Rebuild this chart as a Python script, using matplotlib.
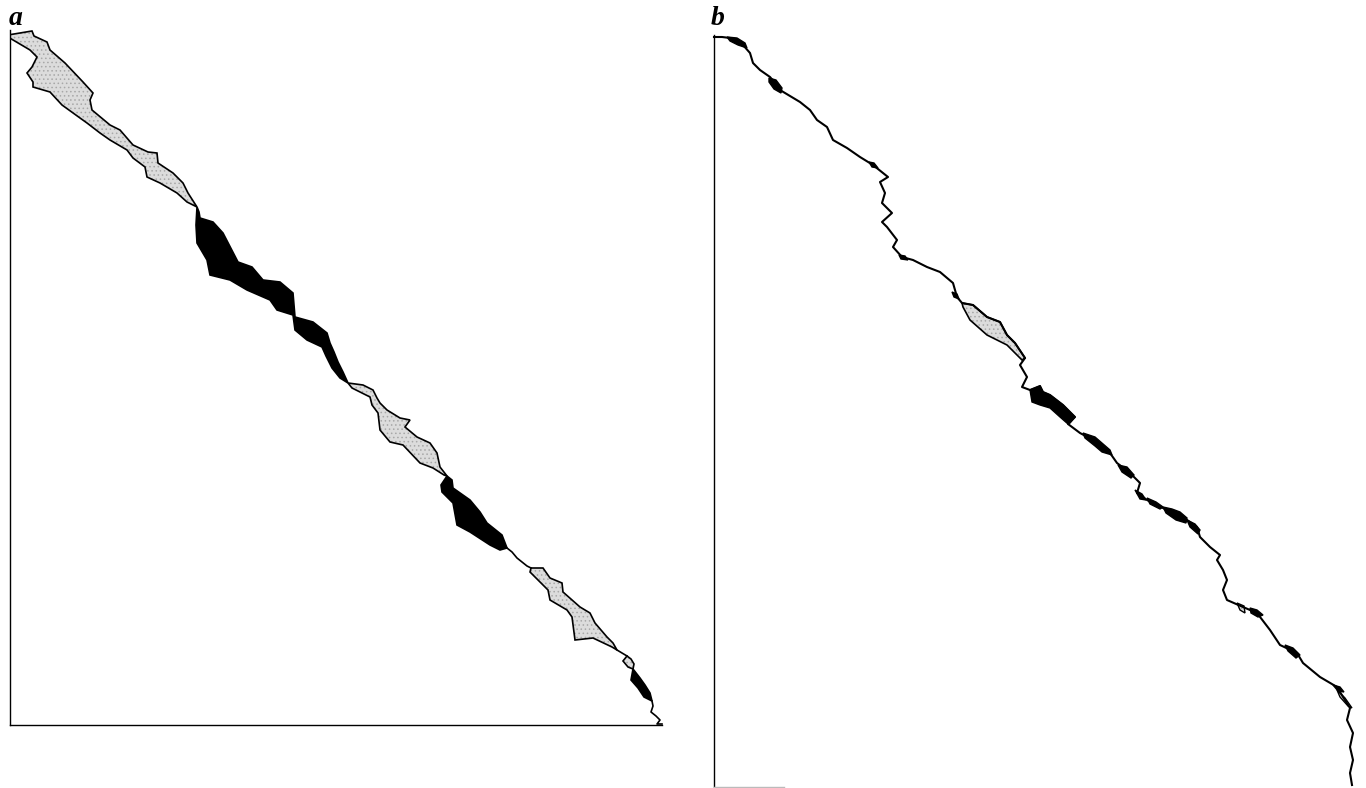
import matplotlib
matplotlib.use("Agg")
import matplotlib.pyplot as plt
from matplotlib.patches import Polygon

# =========================
# panel a: traced curves (x, y)
# =========================
a_xlim = (10, 662)
a_ylim = (725, 30)

a_gray1_up = [(8, 35), (20, 33), (32, 31), (34, 36), (47, 42), (50, 50), (65, 63), (83, 82),
              (93, 93), (90, 100), (92, 110), (110, 125), (120, 130), (133, 145), (148, 152),
              (157, 153), (158, 163), (173, 173), (183, 183), (188, 193), (197, 207)]
a_gray1_lo = [(8, 37), (30, 50), (37, 57), (32, 67), (27, 73), (33, 82), (33, 87), (50, 92),
              (62, 105), (80, 118), (87, 123), (100, 133), (110, 140), (127, 150), (133, 158),
              (145, 167), (147, 177), (160, 183), (177, 193), (187, 202), (197, 207)]

a_black1_up = [(197, 207), (199, 212), (200, 218), (213, 222), (223, 233), (238, 262), (252, 267),
               (263, 280), (280, 282), (293, 293), (295, 317), (313, 322), (327, 333), (330, 343),
               (334, 352), (338, 362), (343, 372), (348, 383)]
a_black1_lo = [(197, 207), (196, 225), (197, 243), (207, 260), (210, 275), (230, 280), (247, 290),
               (270, 300), (277, 310), (293, 315), (295, 330), (307, 340), (322, 347), (326, 356),
               (332, 368), (340, 378), (348, 383)]

a_gray2_up = [(348, 383), (363, 385), (373, 390), (377, 398), (380, 403), (387, 410), (400, 418),
              (410, 420), (405, 427), (417, 437), (430, 443), (437, 453), (440, 467), (447, 476)]
a_gray2_lo = [(348, 383), (352, 388), (370, 397), (372, 405), (378, 413), (380, 430), (390, 442),
              (403, 445), (420, 463), (433, 468), (444, 475), (447, 476)]

a_black2_up = [(447, 476), (452, 480), (453, 488), (470, 500), (480, 512), (487, 523), (502, 535),
               (507, 548)]
a_black2_lo = [(447, 476), (441, 485), (442, 492), (453, 503), (457, 525), (470, 532), (490, 545),
               (500, 550), (507, 548)]

a_link2 = [(507, 548), (512, 552), (517, 558), (527, 566), (531, 568)]

a_gray3_up = [(531, 568), (543, 568), (550, 578), (562, 583), (563, 592), (580, 607), (590, 613),
              (595, 623), (607, 637), (613, 643), (617, 650)]
a_gray3_lo = [(531, 568), (530, 572), (548, 590), (550, 600), (567, 610), (572, 617), (575, 640),
              (593, 638), (612, 647), (617, 650)]

a_link3 = [(617, 650), (622, 653), (627, 656)]

a_gray4_up = [(627, 656), (631, 659), (634, 664), (633, 669)]
a_gray4_lo = [(627, 656), (623, 661), (628, 667), (633, 669)]

a_black3_up = [(633, 669), (640, 678), (645, 685), (650, 693), (652, 701)]
a_black3_lo = [(633, 669), (631, 680), (638, 688), (644, 697), (652, 701)]

a_link4 = [(652, 701), (653, 706), (651, 712), (656, 716), (660, 720), (657, 724), (662, 724)]

# =========================
# panel b
# =========================
b_xlim = (714, 1366)
b_ylim = (787, 35)

b_line = [(714, 37), (722, 37), (730, 38), (743, 45), (750, 53), (753, 63), (760, 70), (770, 77),
          (775, 83), (780, 90), (790, 96), (800, 102), (810, 110), (817, 120), (827, 127),
          (833, 140), (847, 148), (860, 157), (873, 165), (888, 177), (880, 182), (885, 193),
          (882, 203), (892, 213), (882, 222), (887, 227), (897, 240), (893, 247), (902, 257),
          (913, 260), (927, 267), (940, 272), (953, 283), (957, 297), (962, 303), (973, 305),
          (987, 317), (1000, 322), (1007, 335), (1015, 343), (1025, 358), (1020, 365),
          (1027, 377), (1022, 387), (1030, 390), (1040, 386), (1043, 392), (1050, 395),
          (1063, 405), (1075, 417), (1068, 424), (1080, 433), (1093, 440), (1100, 448),
          (1110, 453), (1117, 463), (1130, 473), (1140, 483), (1137, 493), (1147, 500),
          (1157, 505), (1173, 513), (1187, 520), (1197, 527), (1200, 537), (1210, 547),
          (1220, 555), (1217, 560), (1223, 570), (1227, 580), (1223, 590), (1227, 600),
          (1243, 607), (1257, 613), (1270, 630), (1280, 645), (1297, 653), (1303, 663),
          (1320, 677), (1337, 687), (1343, 697), (1350, 708), (1347, 720), (1353, 733),
          (1350, 747), (1353, 760), (1350, 773), (1352, 785)]

b_gray1_up = [(962, 303), (973, 305), (987, 317), (1000, 322), (1007, 335), (1015, 343), (1025, 358)]
b_gray1_lo = [(962, 303), (963, 307), (970, 320), (987, 335), (1007, 345), (1022, 360), (1025, 358)]

b_gray_small = [
    [(1237, 603), (1244, 606), (1245, 613), (1240, 610)],
    [(1337, 690), (1345, 698), (1352, 708), (1348, 706), (1340, 697)],
]

b_black = [
    [(1030, 390), (1035, 388), (1040, 386), (1043, 392), (1050, 395), (1063, 405), (1075, 417),
     (1070, 423), (1068, 424), (1060, 417), (1050, 408), (1040, 405), (1032, 402)],
    [(727, 37), (737, 38), (745, 43), (747, 48), (738, 45), (730, 41)],
    [(769, 78), (776, 80), (782, 88), (781, 93), (774, 89), (769, 82)],
    [(869, 162), (874, 163), (878, 168), (872, 167)],
    [(899, 255), (905, 256), (908, 260), (901, 259)],
    [(952, 292), (957, 294), (959, 299), (954, 297)],
    [(1083, 433), (1095, 437), (1110, 450), (1112, 455), (1102, 452), (1095, 446), (1085, 438)],
    [(1118, 465), (1127, 467), (1134, 475), (1131, 478), (1122, 472)],
    [(1135, 490), (1142, 494), (1146, 500), (1140, 499)],
    [(1147, 498), (1156, 502), (1163, 507), (1160, 509), (1150, 504)],
    [(1163, 507), (1172, 509), (1180, 512), (1187, 518), (1186, 523), (1176, 520), (1166, 513)],
    [(1187, 520), (1195, 524), (1200, 530), (1198, 534), (1190, 527)],
    [(1250, 608), (1257, 610), (1263, 615), (1258, 617), (1251, 613)],
    [(1285, 645), (1293, 648), (1300, 655), (1296, 658), (1288, 651)],
    [(1333, 685), (1340, 687), (1344, 692), (1338, 691)],
]

W, H = 1366, 788
GRAY = "#dcdcdc"


def region(up, lo):
    return up + lo[::-1]


def add_gray(ax, pts, lw):
    ax.add_patch(Polygon(pts, closed=True, facecolor=GRAY, edgecolor="none", zorder=1))
    ax.add_patch(Polygon(pts, closed=True, facecolor="none", edgecolor="#a8a8a8",
                         hatch="....", lw=0, zorder=1.5))
    ax.add_patch(Polygon(pts, closed=True, facecolor="none", edgecolor="black", lw=lw, zorder=2))


def add_black(ax, pts, lw):
    ax.add_patch(Polygon(pts, closed=True, facecolor="black", edgecolor="black", lw=lw, zorder=3))


def setup(ax, xlim, ylim):
    ax.set_xlim(*xlim)
    ax.set_ylim(*ylim)
    for s in ["top", "right"]:
        ax.spines[s].set_visible(False)
    ax.spines["left"].set_linewidth(1.0)
    ax.spines["bottom"].set_linewidth(1.0)
    ax.set_xticks([])
    ax.set_yticks([])


plt.rcParams["hatch.linewidth"] = 0.6
fig = plt.figure(figsize=(W / 100, H / 100), dpi=100)

# ===== panel a =====
ax_a = fig.add_axes([a_xlim[0] / W, (H - a_ylim[0]) / H,
                     (a_xlim[1] - a_xlim[0]) / W, (a_ylim[0] - a_ylim[1]) / H])
setup(ax_a, a_xlim, a_ylim)

lw_a = 1.2
for up, lo in [(a_gray1_up, a_gray1_lo), (a_gray2_up, a_gray2_lo),
               (a_gray3_up, a_gray3_lo), (a_gray4_up, a_gray4_lo)]:
    add_gray(ax_a, region(up, lo), lw_a)
for up, lo in [(a_black1_up, a_black1_lo), (a_black2_up, a_black2_lo), (a_black3_up, a_black3_lo)]:
    add_black(ax_a, region(up, lo), lw_a)
for link in [a_link2, a_link3, a_link4]:
    xs, ys = zip(*link)
    ax_a.plot(xs, ys, color="black", lw=lw_a, zorder=2, clip_on=False)

# ===== panel b =====
ax_b = fig.add_axes([b_xlim[0] / W, (H - b_ylim[0]) / H,
                     (b_xlim[1] - b_xlim[0]) / W, (b_ylim[0] - b_ylim[1]) / H])
setup(ax_b, b_xlim, b_ylim)
ax_b.spines["bottom"].set_bounds(714, 784)
ax_b.spines["bottom"].set_color("#bbbbbb")

lw_b = 1.5
add_gray(ax_b, region(b_gray1_up, b_gray1_lo), 1.2)
for poly in b_gray_small:
    add_gray(ax_b, poly, 1.0)
for poly in b_black:
    add_black(ax_b, poly, 1.0)
xs, ys = zip(*b_line)
ax_b.plot(xs, ys, color="black", lw=lw_b, zorder=2.5, clip_on=False)

# panel letters
for x, lab in [(9, "a"), (711, "b")]:
    fig.text(x / W, 1 - 25 / H, lab, fontfamily="Liberation Serif", fontstyle="italic",
             fontweight="bold", fontsize=20, va="baseline", ha="left")

fig.savefig("out.png", dpi=100, facecolor="white")
